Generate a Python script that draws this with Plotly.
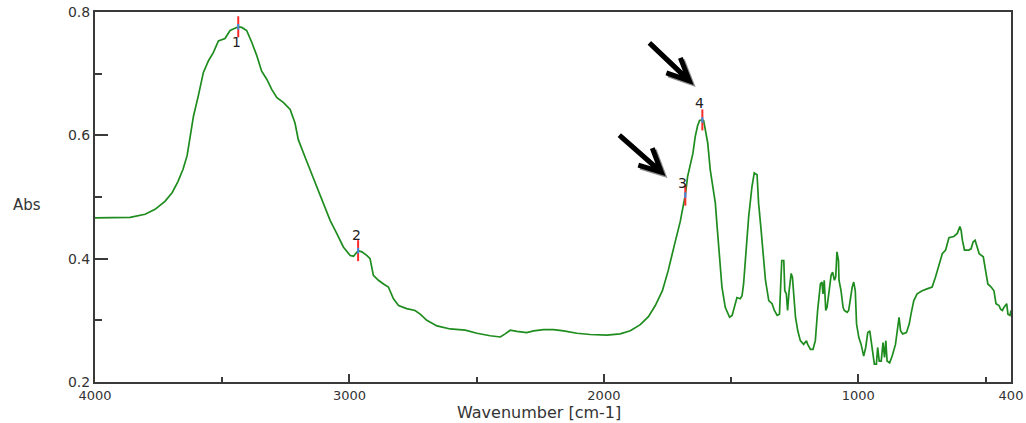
import plotly.graph_objects as go

wavenumber = [4000, 3950, 3900, 3862, 3803, 3764, 3725, 3697, 3674, 3654, 3638, 3626,
              3613, 3594, 3574, 3554, 3535, 3515, 3489, 3469, 3443, 3437, 3423, 3404,
              3384, 3364, 3345, 3325, 3305, 3285, 3259, 3233, 3214, 3201, 3170, 3139,
              3107, 3076, 3050, 3024, 2997, 2984, 2966, 2951, 2931, 2919, 2906, 2886,
              2866, 2847, 2827, 2807, 2775, 2742, 2722, 2696, 2656, 2604, 2545, 2499,
              2447, 2407, 2388, 2368, 2342, 2303, 2276, 2237, 2198, 2158, 2106, 2054,
              1988, 1936, 1896, 1857, 1825, 1798, 1770, 1747, 1723, 1700, 1689, 1680,
              1671, 1660, 1650, 1641, 1632, 1624, 1613, 1608, 1601, 1592, 1582, 1571,
              1562, 1555, 1545, 1536, 1523, 1506, 1496, 1483, 1477, 1464, 1457, 1451,
              1441, 1431, 1418, 1409, 1398, 1392, 1382, 1374, 1365, 1352, 1339, 1330,
              1319, 1310, 1306, 1301, 1293, 1289, 1283, 1278, 1272, 1264, 1259, 1254,
              1247, 1238, 1228, 1215, 1204, 1199, 1188, 1178, 1169, 1160, 1149, 1143,
              1139, 1134, 1128, 1123, 1115, 1107, 1101, 1094, 1089, 1084, 1078, 1076,
              1068, 1060, 1055, 1044, 1038, 1031, 1024, 1018, 1012, 1007, 998, 989,
              979, 971, 963, 955, 950, 943, 937, 929, 924, 918, 910, 903,
              897, 892, 887, 877, 867, 854, 845, 840, 834, 826, 811, 800,
              793, 782, 769, 749, 730, 710, 697, 684, 670, 657, 644, 625,
              611, 601, 596, 591, 583, 566, 557, 549, 541, 533, 525, 509,
              500, 491, 478, 467, 459, 447, 441, 434, 428, 417, 412, 404, 400]

absorbance = [0.466, 0.466, 0.467, 0.467, 0.472, 0.480, 0.493, 0.507, 0.525, 0.545, 0.567, 0.598,
              0.631, 0.664, 0.702, 0.721, 0.734, 0.753, 0.757, 0.770, 0.775, 0.776, 0.775, 0.770,
              0.751, 0.729, 0.704, 0.691, 0.674, 0.661, 0.653, 0.642, 0.620, 0.593, 0.560, 0.528,
              0.495, 0.462, 0.441, 0.419, 0.405, 0.404, 0.413, 0.411, 0.405, 0.400, 0.373, 0.365,
              0.359, 0.354, 0.335, 0.324, 0.319, 0.316, 0.310, 0.300, 0.291, 0.286, 0.284, 0.279,
              0.275, 0.273, 0.278, 0.284, 0.282, 0.280, 0.283, 0.285, 0.285, 0.283, 0.279, 0.277,
              0.276, 0.278, 0.283, 0.293, 0.306, 0.324, 0.348, 0.381, 0.422, 0.460, 0.484, 0.503,
              0.533, 0.555, 0.571, 0.598, 0.615, 0.624, 0.625, 0.624, 0.609, 0.588, 0.544, 0.517,
              0.490, 0.452, 0.392, 0.354, 0.321, 0.305, 0.308, 0.327, 0.337, 0.335, 0.340, 0.359,
              0.414, 0.468, 0.517, 0.539, 0.536, 0.490, 0.446, 0.403, 0.365, 0.332, 0.327, 0.316,
              0.308, 0.310, 0.343, 0.397, 0.397, 0.348, 0.343, 0.316, 0.348, 0.376, 0.370, 0.337,
              0.305, 0.283, 0.267, 0.261, 0.267, 0.261, 0.253, 0.253, 0.267, 0.316, 0.359, 0.362,
              0.343, 0.365, 0.316, 0.321, 0.348, 0.373, 0.378, 0.365, 0.370, 0.411, 0.397, 0.365,
              0.348, 0.321, 0.316, 0.313, 0.316, 0.337, 0.354, 0.362, 0.348, 0.294, 0.272, 0.261,
              0.242, 0.256, 0.280, 0.283, 0.267, 0.245, 0.229, 0.229, 0.256, 0.234, 0.234, 0.264,
              0.240, 0.267, 0.234, 0.231, 0.242, 0.261, 0.289, 0.305, 0.283, 0.278, 0.280, 0.294,
              0.310, 0.332, 0.343, 0.348, 0.351, 0.354, 0.370, 0.389, 0.408, 0.414, 0.434, 0.436,
              0.441, 0.452, 0.446, 0.430, 0.414, 0.414, 0.416, 0.427, 0.430, 0.419, 0.408, 0.403,
              0.381, 0.359, 0.354, 0.348, 0.327, 0.324, 0.318, 0.316, 0.321, 0.327, 0.310, 0.308, 0.316]

peak_labels = ["1", "2", "3", "4"]
peak_wn = [3437, 2966, 1680, 1613]
peak_abs = [0.776, 0.413, 0.503, 0.625]

x_tickvals = [4000, 3000, 2000, 1000, 400]
x_ticktext = ["4000", "3000", "2000", "1000", "400"]
x_minor = [3500, 2500, 1500, 500]
y_tickvals = [0.2, 0.4, 0.6, 0.8]
y_ticktext = ["0.2", "0.4", "0.6", "0.8"]
y_minor = [0.3, 0.5, 0.7]

FONT = "DejaVu Sans"
TXT = "#333333"
AX = "#3a3a3a"

fig = go.Figure()
fig.add_trace(go.Scatter(x=wavenumber, y=absorbance, mode="lines",
                         line=dict(color="#1e8c1e", width=1.7), hoverinfo="skip"))
fig.add_trace(go.Scatter(x=peak_wn, y=peak_abs, mode="markers",
                         marker=dict(symbol="line-ns", size=15,
                                     line=dict(color="#ff2a2a", width=2))))
fig.add_trace(go.Scatter(x=peak_wn, y=peak_abs, mode="markers",
                         marker=dict(symbol="line-ns", size=4,
                                     line=dict(color="#3a8fe0", width=2))))

# peak number labels
label_shift = [(-2, -15), (-2, 16), (-3, 12), (-3, 17)]
for lab, wx, ay_, (dx, dy) in zip(peak_labels, peak_wn, peak_abs, label_shift):
    fig.add_annotation(x=wx, y=ay_, text=lab, showarrow=False, xshift=dx, yshift=dy,
                       font=dict(family=FONT, size=14, color="#222222"))

# chevron arrows pointing at peaks 3 and 4 (pixel offsets from the peak, y up), with grey shadow
# (tail, tip, wing1, wing2)
arrow_geom = {
    3: ((-53, 77), (-13, 39), (-22, 62), (-36, 47)),
    2: ((-66, 60), (-24, 23), (-33, 47), (-47, 30)),
}
for idx, (tail, tip, w1, w2) in arrow_geom.items():
    for col, ox, oy in [("#8c8c8c", 2, -2), ("#000000", 0, 0)]:
        p = lambda pt: f"{pt[0] + ox},{pt[1] + oy}"
        path = f"M{p(tail)} L{p(tip)} M{p(w1)} L{p(tip)} L{p(w2)}"
        fig.add_shape(type="path", path=path, xref="x", yref="y",
                      xsizemode="pixel", ysizemode="pixel",
                      xanchor=peak_wn[idx], yanchor=peak_abs[idx],
                      line=dict(color=col, width=5), layer="above")

fig.add_annotation(text="Abs", xref="paper", yref="paper", x=-0.092, y=0.478,
                   xanchor="left", yanchor="middle", showarrow=False,
                   font=dict(family=FONT, size=15, color=TXT))
fig.add_annotation(text="Wavenumber [cm-1]", xref="paper", yref="paper", x=0.485, y=-0.082,
                   xanchor="center", yanchor="middle", showarrow=False,
                   font=dict(family=FONT, size=16, color=TXT))

fig.update_layout(
    width=1026, height=423,
    margin=dict(l=95, r=15, t=12, b=41),
    paper_bgcolor="white", plot_bgcolor="white",
    showlegend=False,
    xaxis=dict(range=[4000, 400], tickmode="array", tickvals=x_tickvals, ticktext=x_ticktext,
               ticks="inside", ticklen=8, tickwidth=1.5, tickcolor=AX, automargin=False,
               minor=dict(tickvals=x_minor, ticks="inside", ticklen=5, tickwidth=1.5, tickcolor=AX,
                          showgrid=False),
               showline=True, linecolor=AX, linewidth=2, mirror=True,
               showgrid=False, zeroline=False,
               tickfont=dict(family=FONT, size=13, color=TXT)),
    yaxis=dict(range=[0.2, 0.8], tickmode="array", tickvals=y_tickvals, ticktext=y_ticktext,
               ticks="inside", ticklen=13, tickwidth=1.5, tickcolor=AX, automargin=False,
               minor=dict(tickvals=y_minor, ticks="inside", ticklen=7, tickwidth=1.5, tickcolor=AX,
                          showgrid=False),
               showline=True, linecolor=AX, linewidth=2, mirror=True,
               showgrid=False, zeroline=False,
               tickfont=dict(family=FONT, size=14, color=TXT)),
)

fig.write_html("out.html")
